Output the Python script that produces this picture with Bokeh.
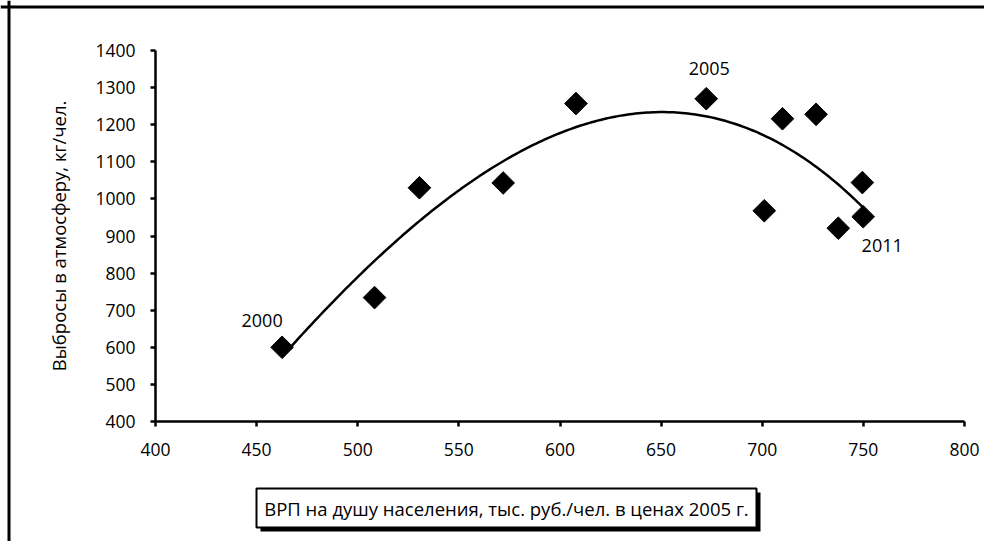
import numpy as np
from bokeh.plotting import figure
from bokeh.models import Label, BoxAnnotation, FixedTicker, Range1d, Span
from bokeh.embed import file_html
from bokeh.resources import INLINE

# ---- data ----
years = [2000, 2001, 2002, 2003, 2004, 2005, 2006, 2007, 2008, 2009, 2010, 2011]
grp_per_capita = [462.6, 508.3, 530.5, 571.9, 607.9, 672.3, 701.0, 710.0, 726.6, 737.6, 749.5, 749.9]
emissions = [600, 734, 1030, 1043, 1257, 1270, 968, 1216, 1228, 921, 1044, 952]
x_ticks = [400, 450, 500, 550, 600, 650, 700, 750, 800]
y_ticks = [400, 500, 600, 700, 800, 900, 1000, 1100, 1200, 1300, 1400]
labeled_years = [2000, 2005, 2011]
x_title = "ВРП на душу населения, тыс. руб./чел. в ценах 2005 г."
y_title = "Выбросы в атмосферу, кг/чел."

FONT = "Open Sans"
FS_TICK = "17.5px"
FS_ANN = "18px"
FS_TITLE = "18.5px"

# canvas geometry (picture px); the plotting area spans the whole canvas,
# the axes are drawn at fixed data locations inside it
W, H = 984, 541
OX, OY = 0, 0                # where the canvas lands in the picture
AX_L, AX_R = 155, 964        # picture px of x = 400 / 800
AX_T, AX_B = 50, 421         # picture px of y = 1400 / 400
X0, X1 = 400, 800
Y0, Y1 = 400, 1400
kx = (X1 - X0) / (AX_R - AX_L)
ky = (Y1 - Y0) / (AX_B - AX_T)

def px2x(px):
    return X0 + (px - AX_L) * kx

def py2y(py):
    return Y0 + (AX_B - py) * ky

p = figure(width=W, height=H, min_border=0,
           x_range=Range1d(px2x(OX), px2x(OX + W)),
           y_range=Range1d(py2y(OY + H), py2y(OY)),
           output_backend="svg", toolbar_location=None)
p.outline_line_color = None
p.grid.visible = False
p.background_fill_color = "white"
p.border_fill_color = "white"

xa, ya = p.xaxis[0], p.yaxis[0]
xa.fixed_location = Y0
ya.fixed_location = X0
xa.bounds = (X0, X1)
ya.bounds = (Y0, Y1)
for ax, ticks in ((xa, x_ticks), (ya, y_ticks)):
    ax.ticker = FixedTicker(ticks=ticks)
    ax.axis_line_width = 2.5
    ax.axis_line_color = "black"
    ax.major_tick_line_width = 2.5
    ax.major_tick_line_color = "black"
    ax.major_tick_out = 5
    ax.major_tick_in = 0
    ax.minor_tick_line_color = None
    ax.major_label_text_font = FONT
    ax.major_label_text_font_size = FS_TICK
    ax.major_label_text_color = "black"
xa.major_label_standoff = 16
ya.major_label_standoff = 15

ya.axis_label = y_title
ya.axis_label_text_font = FONT
ya.axis_label_text_font_size = FS_TITLE
ya.axis_label_text_font_style = "normal"
ya.axis_label_text_color = "black"
ya.axis_label_standoff = 21

# outer border (top and left edges visible)
p.add_layout(Span(location=py2y(6.5), dimension="width", line_color="black", line_width=3))
p.add_layout(Span(location=px2x(8.5), dimension="height", line_color="black", line_width=3))

# trend line: 3rd-order polynomial fit of the data (spreadsheet-style trendline)
coef = np.polyfit(grp_per_capita, emissions, 3)
xs = np.linspace(min(grp_per_capita), max(grp_per_capita), 200)
p.line(xs, np.polyval(coef, xs), line_color="black", line_width=2.5)

p.scatter(grp_per_capita, emissions, marker="square", angle=np.pi / 4, size=16,
          fill_color="black", line_color="black")

# year annotations next to selected points
offsets = {2000: (-20, 27), 2005: (3, 30), 2011: (19, -29)}
for yr in labeled_years:
    i = years.index(yr)
    dx, dy = offsets[yr]
    p.add_layout(Label(x=grp_per_capita[i], y=emissions[i], x_offset=dx, y_offset=dy,
                       text=str(yr), text_align="center", text_baseline="middle",
                       text_font=FONT, text_font_size=FS_ANN, text_color="black"))

# x-axis title in a framed box with a shadow
bl, br, bt, bb = 256, 756, 488, 527
sh = 4
p.add_layout(BoxAnnotation(left=px2x(bl + sh), right=px2x(br + sh),
                           top=py2y(bt + sh), bottom=py2y(bb + sh),
                           fill_color="black", fill_alpha=1, line_color=None))
p.add_layout(BoxAnnotation(left=px2x(bl), right=px2x(br), top=py2y(bt), bottom=py2y(bb),
                           fill_color="white", fill_alpha=1, line_color="black",
                           line_width=2, line_alpha=1))
p.add_layout(Label(x=px2x((bl + br) / 2), y=py2y((bt + bb) / 2), text=x_title,
                   text_align="center", text_baseline="middle",
                   text_font=FONT, text_font_size=FS_TITLE, text_color="black"))

open("out.html", "w").write(file_html(p, INLINE))
